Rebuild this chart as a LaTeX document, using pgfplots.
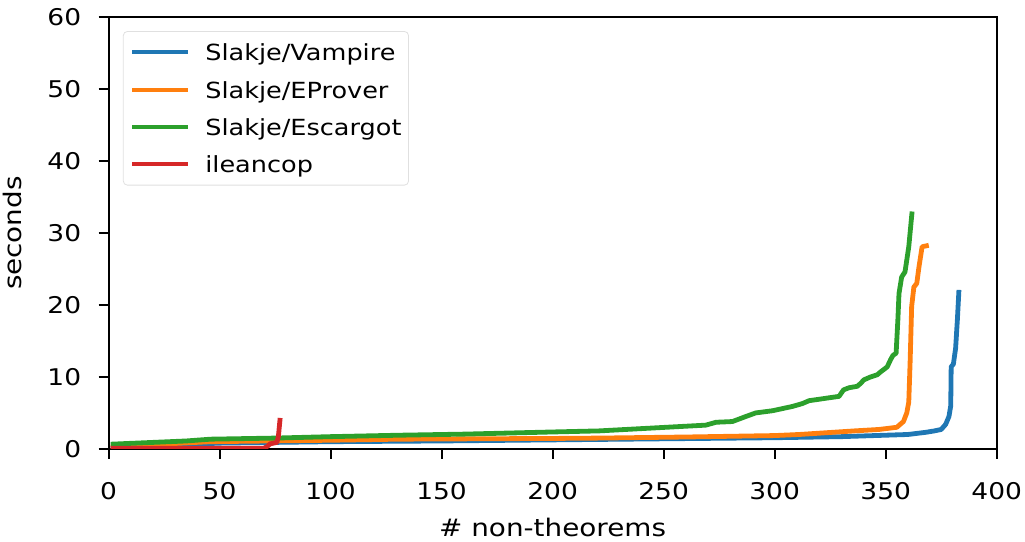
\documentclass[border=0pt]{standalone}
\usepackage{pgfplots}
\pgfplotsset{compat=1.18}
\usepackage{fontspec}
\setmainfont[FakeStretch=1.15]{DejaVu Sans}
\usetikzlibrary{calc}
\definecolor{c0}{HTML}{1F77B4}
\definecolor{c1}{HTML}{FF7F0E}
\definecolor{c2}{HTML}{2CA02C}
\definecolor{c3}{HTML}{D62728}
\begin{document}
\begin{tikzpicture}
\begin{axis}[
  name=ax,
  scale only axis,
  width=444pt, height=215.75pt,
  xmin=0, xmax=400, ymin=0, ymax=60,
  xtick={0,50,...,400}, ytick={0,10,...,60},
  axis line style={line width=1pt},
  tick style={line width=1pt, black},
  tick align=outside,
  major tick length=5pt,
  xtick pos=bottom, ytick pos=left,
  /pgf/number format/assume math mode=true,
  tick label style={font=\fontsize{11.5}{14}\selectfont},
  xticklabel style={anchor=north, inner sep=0pt, yshift=-11.5pt},
  yticklabel style={anchor=east, inner sep=0pt, xshift=-8.5pt},
  xlabel={\# non-theorems}, ylabel={seconds},
  label style={font=\fontsize{12.1}{14}\selectfont, inner sep=0pt},
  xlabel style={at={(axis description cs:0.5,-0.2028)}, anchor=base},
  ylabel style={at={(axis description cs:-0.0985,0.5)}, anchor=base, rotate=0},
  legend style={at={(rel axis cs:0,1)}, anchor=north west, xshift=7.2pt, yshift=-6.9pt,
    draw=black!12, rounded corners=2pt, font=\fontsize{11.1}{14}\selectfont,
    row sep=0pt, column sep=0pt, inner xsep=3.5pt, inner ysep=1pt,
    nodes={inner sep=0pt, text height=13.55pt, text depth=5.15pt},
    cells={anchor=west}},
  legend image code/.code={\draw[#1, line width=2pt] (0pt,0pt) -- (28pt,0pt);},
  every axis plot/.append style={line width=2.4pt, line join=round},
]
\addplot[c0] coordinates {(1,0.15)(20,0.4)(50,0.8)(100,1.0)(150,1.1)(200,1.25)(250,1.4)(300,1.55)(330,1.7)(350,1.9)(360,2.0)(368,2.3)(372,2.5)(375,2.7)(377,3.4)(378.5,4.5)(379.3,6)(379.5,11.4)(380.5,11.8)(381.5,14)(382.3,18)(383,22.1)};
\addlegendentry{\hspace{7.5pt}Slakje/Vampire}
\addplot[c1] coordinates {(1,0.3)(20,0.6)(46,1.0)(100,1.2)(131,1.35)(200,1.45)(221,1.5)(260,1.65)(300,1.85)(311,2.0)(336,2.5)(347,2.7)(355,3.0)(358,3.8)(359.5,5)(360.4,6.5)(361,12)(361.7,19.8)(362.7,22.5)(364,23)(365,25.3)(366.4,28.1)(369.4,28.3)};
\addlegendentry{\hspace{7.5pt}Slakje/EProver}
\addplot[c2] coordinates {(1,0.65)(20,0.9)(35,1.1)(46,1.35)(75,1.5)(100,1.7)(131,1.9)(160,2.05)(200,2.35)(221,2.5)(251,3.0)(269,3.3)(273.6,3.7)(281,3.8)(287,4.5)(291.5,5.0)(299,5.3)(308,5.9)(312.5,6.3)(315.5,6.7)(329,7.3)(331,8.2)(333.5,8.5)(337.2,8.7)(338.7,9.1)(340.2,9.6)(343.2,10)(346.2,10.3)(347.7,10.7)(350.7,11.4)(352.2,12.4)(353.3,13.0)(354.7,13.3)(355.5,18)(356,21.6)(357.2,23.9)(358.7,24.6)(360.4,28.1)(361.9,33)};
\addlegendentry{\hspace{7.5pt}Slakje/Escargot}
\addplot[c3] coordinates {(1,0.1)(70,0.1)(71.3,0.3)(72.8,0.7)(75.8,0.9)(76.5,1.7)(77.3,4.3)};
\addlegendentry{\hspace{7.5pt}ileancop}
\end{axis}
\pgfresetboundingbox
\path[use as bounding box] ($(ax.south west)+(-54.25pt,-46.25pt)$) rectangle ($(ax.north east)+(14.15pt,8.65pt)$);
\end{tikzpicture}
\end{document}
